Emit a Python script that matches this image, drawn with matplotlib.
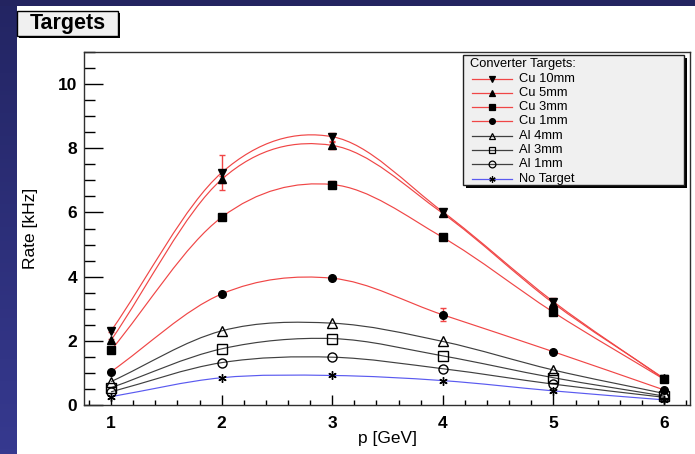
"""Converter targets: rate vs momentum, ROOT-style canvas redrawn with matplotlib."""
import numpy as np
import matplotlib
matplotlib.use("Agg")
import matplotlib.pyplot as plt
from matplotlib.path import Path
from matplotlib.patches import PathPatch, Rectangle
from matplotlib.lines import Line2D
from matplotlib.ticker import MultipleLocator

plt.rcParams["font.family"] = ["Liberation Sans", "DejaVu Sans"]

# ---- data ----
p_gev = [1, 2, 3, 4, 5, 6]
labels = ["Cu 10mm", "Cu 5mm", "Cu 3mm", "Cu 1mm", "Al 4mm", "Al 3mm", "Al 1mm", "No Target"]
cu10 = [2.31, 7.24, 8.36, 6.02, 3.22, 0.81]
cu5 = [2.02, 7.03, 8.09, 5.97, 3.17, 0.83]
cu3 = [1.71, 5.85, 6.87, 5.22, 2.89, 0.80]
cu1 = [1.04, 3.46, 3.95, 2.81, 1.66, 0.47]
al4 = [0.73, 2.31, 2.55, 1.98, 1.09, 0.36]
al3 = [0.54, 1.75, 2.07, 1.53, 0.85, 0.28]
al1 = [0.41, 1.32, 1.49, 1.13, 0.65, 0.24]
none = [0.26, 0.85, 0.92, 0.76, 0.44, 0.16]
cu10_err = [0.05, 0.55, 0.12, 0.10, 0.12, 0.05]
cu5_err = [0.05, 0.10, 0.10, 0.08, 0.10, 0.05]
cu3_err = [0.05, 0.05, 0.12, 0.05, 0.05, 0.05]
cu1_err = [0.03, 0.03, 0.05, 0.20, 0.03, 0.03]

RED, GREY, BLUE = "#f04646", "#404040", "#5a5af0"
ASTER = (6, 2, 0)
# (values, errors, line colour, marker, filled, marker size)
series = [
    (cu10, cu10_err, RED, "v", True, 6),
    (cu5, cu5_err, RED, "^", True, 6),
    (cu3, cu3_err, RED, "s", True, 5.5),
    (cu1, cu1_err, RED, "o", True, 5.5),
    (al4, None, GREY, "^", False, 6.5),
    (al3, None, GREY, "s", False, 6.5),
    (al1, None, GREY, "o", False, 6.5),
    (none, None, BLUE, ASTER, True, 6),
]

W, H = 695, 454


def smooth_path(x, y):
    # Catmull-Rom style cubic Bezier through the points (like ROOT's "C" option)
    x = np.asarray(x, float)
    y = np.asarray(y, float)
    m = np.gradient(y, x)
    verts, codes = [(x[0], y[0])], [Path.MOVETO]
    for i in range(len(x) - 1):
        h = x[i + 1] - x[i]
        verts += [(x[i] + h / 3, y[i] + m[i] * h / 3),
                  (x[i + 1] - h / 3, y[i + 1] - m[i + 1] * h / 3),
                  (x[i + 1], y[i + 1])]
        codes += [Path.CURVE4] * 3
    return Path(verts, codes)


fig = plt.figure(figsize=(W / 100, H / 100), dpi=100, facecolor="white")

# main axes, placed in pixels
L, R, T, B = 84, 690, 52, 405
ax = fig.add_axes([L / W, (H - B) / H, (R - L) / W, (B - T) / H])
ax.set_xlim(0.755, 6.235)
ax.set_ylim(0, 11)

for vals, err, col, mk, filled, ms in series:
    ax.add_patch(PathPatch(smooth_path(p_gev, vals), fill=False, ec=col, lw=0.85, zorder=2))
    if err is not None:
        ax.errorbar(p_gev, vals, yerr=err, fmt="none", ecolor=RED, elinewidth=1.0,
                    capsize=2.5, capthick=1.0, zorder=3)
    ax.plot(p_gev, vals, ls="none", marker=mk, ms=ms, mec="black",
            mfc="black" if filled else "none", mew=1.0, zorder=4)

ax.xaxis.set_major_locator(MultipleLocator(1))
ax.xaxis.set_minor_locator(MultipleLocator(0.2))
ax.yaxis.set_major_locator(MultipleLocator(2))
ax.yaxis.set_minor_locator(MultipleLocator(0.5))
ax.tick_params(axis="both", which="both", direction="in", color="black", width=1.0)
ax.tick_params(axis="y", which="major", length=14, pad=5, labelsize=12.5)
ax.tick_params(axis="y", which="minor", length=8)
ax.tick_params(axis="x", which="major", length=7, pad=8, labelsize=12.5)
ax.tick_params(axis="x", which="minor", length=3.6)
for lab in ax.get_xticklabels() + ax.get_yticklabels():
    lab.set_fontweight("bold")
for s in ax.spines.values():
    s.set_linewidth(1.0)
    s.set_color("#303030")

ax.set_xlabel("p [GeV]", fontsize=12.5, labelpad=0)
ax.set_ylabel("Rate [kHz]", fontsize=12.5)
ax.yaxis.set_label_coords((38 - L) / (R - L), (B - 228) / (B - T))

# overlay in pixel coordinates for canvas decorations, title box and legend
ov = fig.add_axes([0, 0, 1, 1], zorder=10)
ov.axis("off")
ov.patch.set_alpha(0)

grad = np.linspace(0, 1, 100).reshape(-1, 1)
ov.imshow(grad, extent=[0, 17, H, 0], aspect="auto", zorder=0,
          cmap=matplotlib.colors.LinearSegmentedColormap.from_list("nv", ["#232563", "#36398f"]))
ov.add_patch(Rectangle((0, 0), W, 5.5, color="#232460", lw=0, zorder=0))
ov.set_xlim(0, W)
ov.set_ylim(H, 0)

# "Targets" title box with shadow
ov.add_patch(Rectangle((19, 12.5), 101, 25.5, fc="black", ec="none", zorder=1))
ov.add_patch(Rectangle((17, 10.5), 101, 25.5, fc="#f0f0f0", ec="black", lw=1.0, zorder=2))
ov.text(68, 23.5, "Targets", ha="center", va="center", fontsize=15.5,
        fontweight="bold", zorder=3)

# legend box with shadow
lx0, ly0, lx1, ly1 = 463, 55, 684, 185
ov.add_patch(Rectangle((lx0 + 3, ly0 + 3), lx1 - lx0, ly1 - ly0, fc="black", ec="none", zorder=1))
ov.add_patch(Rectangle((lx0, ly0), lx1 - lx0, ly1 - ly0, fc="#f0f0f0", ec="#202020", lw=1.0, zorder=2))
ov.text(470, 64, "Converter Targets:", ha="left", va="center", fontsize=9.3, zorder=3)
for i, (lab, (vals, err, col, mk, filled, ms)) in enumerate(zip(labels, series)):
    yy = 78.5 + i * 14.3
    ov.add_line(Line2D([472, 512], [yy, yy], color=col, lw=0.9, zorder=3))
    ov.plot([492], [yy], ls="none", marker=mk, ms=ms * 0.75, mec="black",
            mfc="black" if filled else "none", mew=0.9, zorder=4)
    ov.text(519, yy, lab, ha="left", va="center", fontsize=9.3, zorder=4)

fig.savefig("out.png", dpi=100)
